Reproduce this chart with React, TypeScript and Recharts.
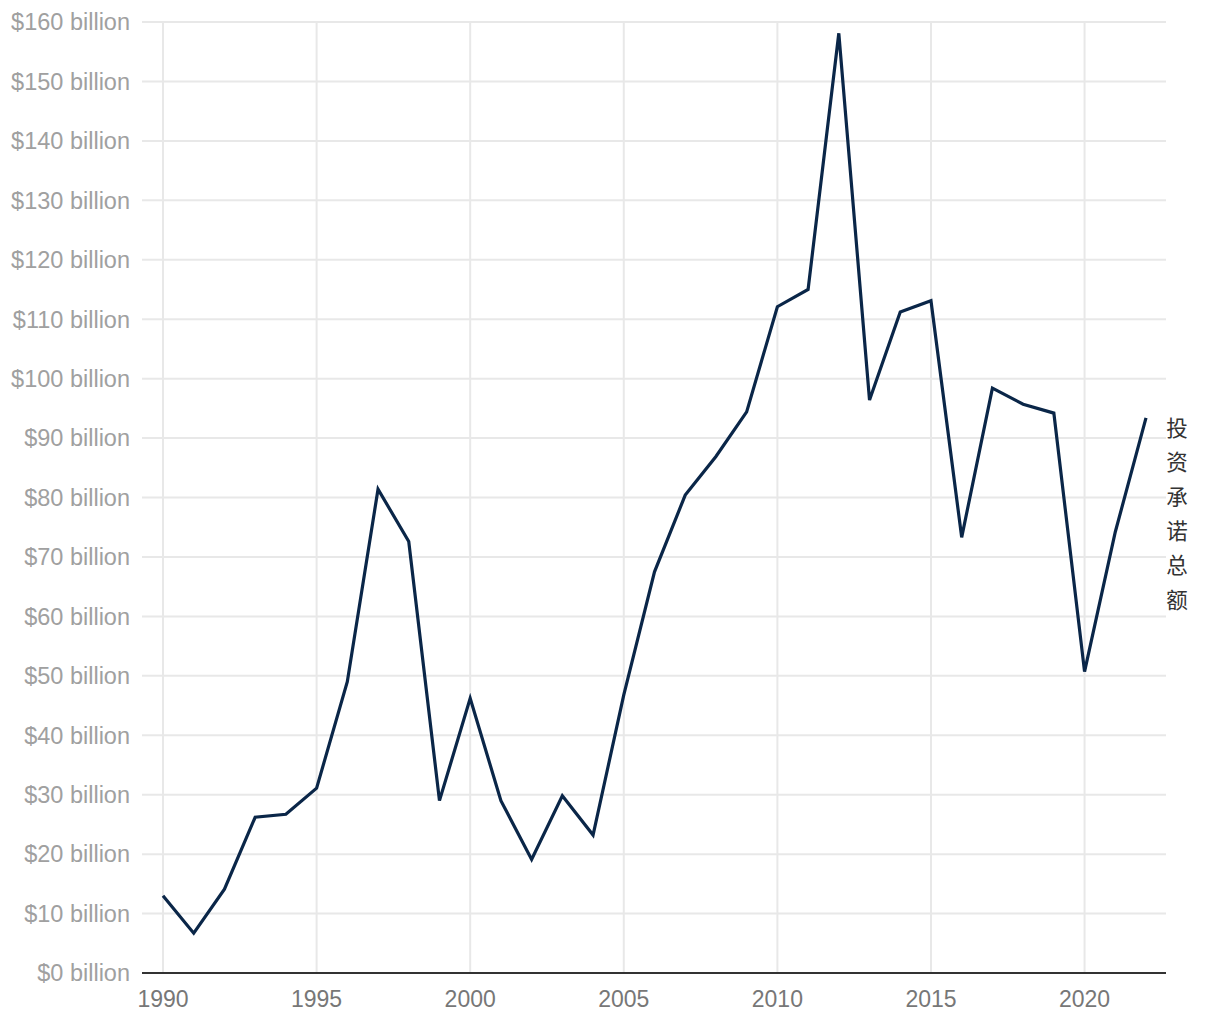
import React from "react";
import { LineChart, Line, XAxis, YAxis, CartesianGrid, ReferenceLine } from "recharts";

const years = [1990, 1991, 1992, 1993, 1994, 1995, 1996, 1997, 1998, 1999, 2000, 2001, 2002, 2003, 2004, 2005, 2006, 2007, 2008, 2009, 2010, 2011, 2012, 2013, 2014, 2015, 2016, 2017, 2018, 2019, 2020, 2021, 2022];
const commitments = [13.0, 6.7, 14.1, 26.2, 26.7, 31.1, 49.0, 81.4, 72.6, 29.0, 46.2, 29.0, 19.1, 29.8, 23.2, 46.8, 67.5, 80.4, 86.9, 94.4, 112.1, 115.0, 158.1, 96.4, 111.2, 113.1, 73.3, 98.4, 95.7, 94.2, 50.7, 74.2, 93.4];
const xTicks = [1990, 1995, 2000, 2005, 2010, 2015, 2020];
const yTicks = [0, 10, 20, 30, 40, 50, 60, 70, 80, 90, 100, 110, 120, 130, 140, 150, 160];
const seriesLabel = "投资承诺总额";

const data = years.map((year, i) => ({ year, value: commitments[i] }));

const EndLabel = (props: any) => {
  const { index } = props;
  if (index !== data.length - 1) return null;
  const x = props.x ?? props.viewBox?.x;
  const y = props.y ?? props.viewBox?.y;
  if (x == null || y == null) return null;
  const chars = Array.from(seriesLabel);
  return (
    <text
      x={x + 31}
      y={y}
      textAnchor="middle"
      fill="#333333"
      fontSize={21.5}
      fontFamily='"Noto Sans CJK SC", sans-serif'
    >
      {chars.map((c, i) => (
        <tspan key={i} x={x + 31} dy={i === 0 ? 18 : 34.4}>
          {c}
        </tspan>
      ))}
    </text>
  );
};

export default function App() {
  return (
    <LineChart
      width={1212}
      height={1012}
      data={data}
      margin={{ top: 14, right: 54, bottom: 0, left: 0 }}
    >
      <CartesianGrid stroke="#e8e8e8" strokeWidth={2} vertical={false} />
      {xTicks.map((t) => (
        <ReferenceLine key={t} x={t} stroke="#e8e8e8" strokeWidth={2} />
      ))}
      <XAxis
        dataKey="year"
        type="number"
        domain={[1990, 2022]}
        ticks={xTicks}
        padding={{ left: 21, right: 20 }}
        height={47}
        tickSize={0}
        tickMargin={18}
        axisLine={{ stroke: "#333333", strokeWidth: 2 }}
        tickLine={false}
        tick={{ fill: "#777777", fontSize: 23, fontFamily: '"Liberation Sans", Arial, sans-serif' }}
      />
      <YAxis
        type="number"
        domain={[0, 160]}
        ticks={yTicks}
        width={134}
        tickSize={0}
        tickMargin={12}
        axisLine={false}
        tickLine={false}
        tickFormatter={(v: number) => `$${v} billion`}
        tick={{ fill: "#a0a0a0", fontSize: 23.5, fontFamily: '"Liberation Sans", Arial, sans-serif' }}
      />
      <Line
        type="linear"
        dataKey="value"
        stroke="#0a2648"
        strokeWidth={3.2}
        dot={false}
        isAnimationActive={false}
        label={<EndLabel />}
      />
    </LineChart>
  );
}
